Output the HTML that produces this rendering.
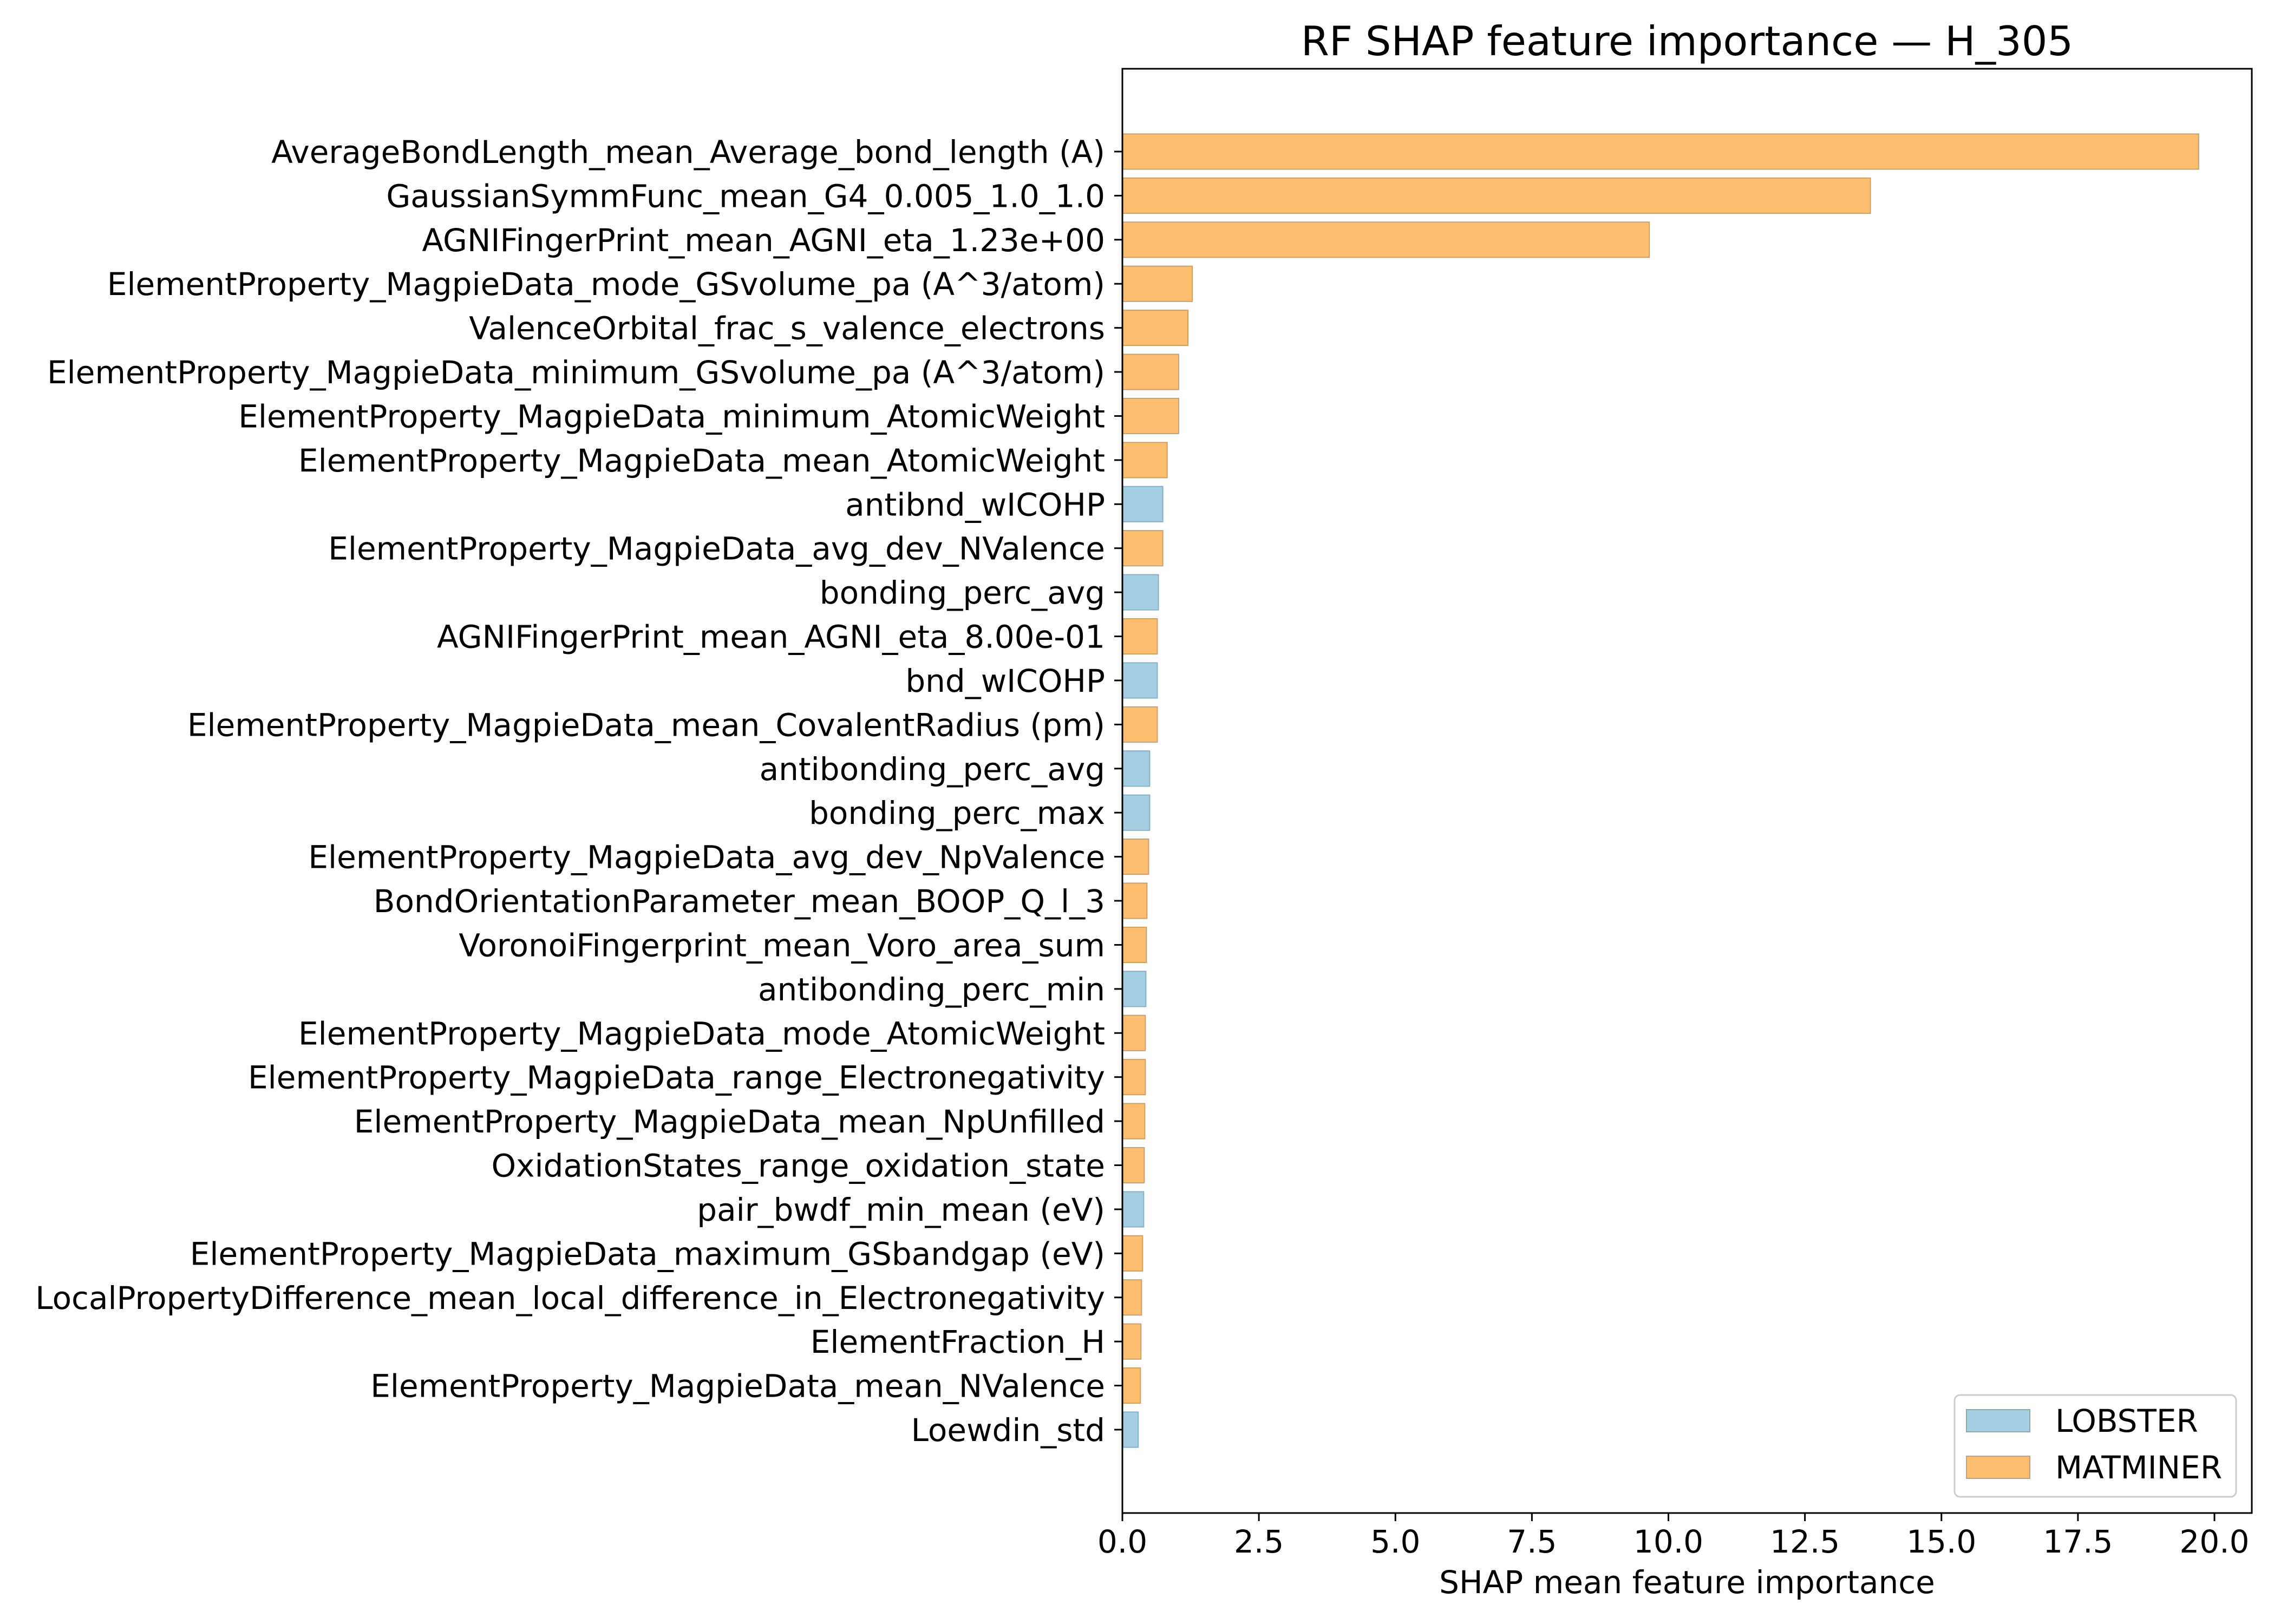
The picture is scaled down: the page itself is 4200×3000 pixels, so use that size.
<!DOCTYPE html>
<html><head><meta charset="utf-8">
<style>
html,body{margin:0;padding:0;background:#fff;}
svg{display:block;font-family:"DejaVu Sans","Liberation Sans",sans-serif;}
</style></head>
<body>
<svg id="chart" width="4200" height="3000" viewBox="0 0 4200 3000" xmlns="http://www.w3.org/2000/svg">
<rect x="0" y="0" width="4200" height="3000" fill="#fff"/>
<text x="3116" y="102" font-size="75" text-anchor="middle" fill="#000">RF SHAP feature importance — H_305</text>
<g id="bars"></g>
<g id="yticks"></g>
<g id="xticks"></g>
<rect x="2073" y="127" width="2086" height="2668" fill="none" stroke="#000" stroke-width="3"/>
<text x="3116" y="2943" font-size="58" text-anchor="middle" fill="#000">SHAP mean feature importance</text>
<g>
<rect x="3610" y="2577" width="520" height="188" rx="10" fill="#fff" fill-opacity="0.8" stroke="#ccc" stroke-width="3"/>
<rect x="3632" y="2604" width="117" height="41" fill="#a6cee3" stroke="#8aa" stroke-width="2"/>
<text x="3796" y="2645" font-size="58" fill="#000">LOBSTER</text>
<rect x="3632" y="2690" width="117" height="41" fill="#fdbf6f" stroke="#c9a070" stroke-width="2"/>
<text x="3796" y="2731" font-size="58" fill="#000">MATMINER</text>
</g>
</svg>
<script>
const features = ["AverageBondLength_mean_Average_bond_length (A)","GaussianSymmFunc_mean_G4_0.005_1.0_1.0","AGNIFingerPrint_mean_AGNI_eta_1.23e+00","ElementProperty_MagpieData_mode_GSvolume_pa (A^3/atom)","ValenceOrbital_frac_s_valence_electrons","ElementProperty_MagpieData_minimum_GSvolume_pa (A^3/atom)","ElementProperty_MagpieData_minimum_AtomicWeight","ElementProperty_MagpieData_mean_AtomicWeight","antibnd_wICOHP","ElementProperty_MagpieData_avg_dev_NValence","bonding_perc_avg","AGNIFingerPrint_mean_AGNI_eta_8.00e-01","bnd_wICOHP","ElementProperty_MagpieData_mean_CovalentRadius (pm)","antibonding_perc_avg","bonding_perc_max","ElementProperty_MagpieData_avg_dev_NpValence","BondOrientationParameter_mean_BOOP_Q_l_3","VoronoiFingerprint_mean_Voro_area_sum","antibonding_perc_min","ElementProperty_MagpieData_mode_AtomicWeight","ElementProperty_MagpieData_range_Electronegativity","ElementProperty_MagpieData_mean_NpUnfilled","OxidationStates_range_oxidation_state","pair_bwdf_min_mean (eV)","ElementProperty_MagpieData_maximum_GSbandgap (eV)","LocalPropertyDifference_mean_local_difference_in_Electronegativity","ElementFraction_H","ElementProperty_MagpieData_mean_NValence","Loewdin_std"];
const values = [19.71,13.70,9.65,1.28,1.20,1.03,1.03,0.82,0.74,0.74,0.66,0.64,0.64,0.64,0.50,0.50,0.48,0.45,0.44,0.43,0.42,0.42,0.41,0.40,0.39,0.37,0.35,0.34,0.33,0.29];
const sources = ["M","M","M","M","M","M","M","M","L","M","L","M","L","M","L","L","M","M","M","L","M","M","M","M","L","M","M","M","M","L"];
const xTicks = [0,2.5,5,7.5,10,12.5,15,17.5,20];
const xTickLabels = ["0.0","2.5","5.0","7.5","10.0","12.5","15.0","17.5","20.0"];

const NS="http://www.w3.org/2000/svg";
const X0=2073, PXU=(4090-2073)/20;
function xs(v){return X0+v*PXU;}
const Y0=280, STEP=(2641-280)/29;
function ys(i){return Y0+i*STEP;}
const BH=STEP*0.8;
function mk(tag,attrs,parent){const e=document.createElementNS(NS,tag);for(const k in attrs)e.setAttribute(k,attrs[k]);parent.appendChild(e);return e;}
const gb=document.getElementById('bars'), gy=document.getElementById('yticks'), gx=document.getElementById('xticks');
features.forEach((f,i)=>{
  const lob=sources[i]==="L";
  const r=mk('rect',{x:X0,y:ys(i)-BH/2,width:xs(values[i])-X0,height:BH,fill:lob?'#a6cee3':'#fdbf6f',stroke:lob?'#8ab0c4':'#c9a070','stroke-width':2},gb);
  
  
  const t=mk('line',{x1:X0-15,x2:X0,y1:ys(i),y2:ys(i),stroke:'#000','stroke-width':3},gy);
  
  
  const l=mk('text',{x:2041,y:ys(i)+21,'font-size':58,'text-anchor':'end',fill:'#000'},gy);
  l.textContent=f;
  
  
});
xTicks.forEach((v,i)=>{
  const t=mk('line',{x1:xs(v),x2:xs(v),y1:2795,y2:2810,stroke:'#000','stroke-width':3},gx);
  
  
  const l=mk('text',{x:xs(v),y:2868,'font-size':58,'text-anchor':'middle',fill:'#000'},gx);
  l.textContent=xTickLabels[i];
  
  
});
</script>
</body></html>
